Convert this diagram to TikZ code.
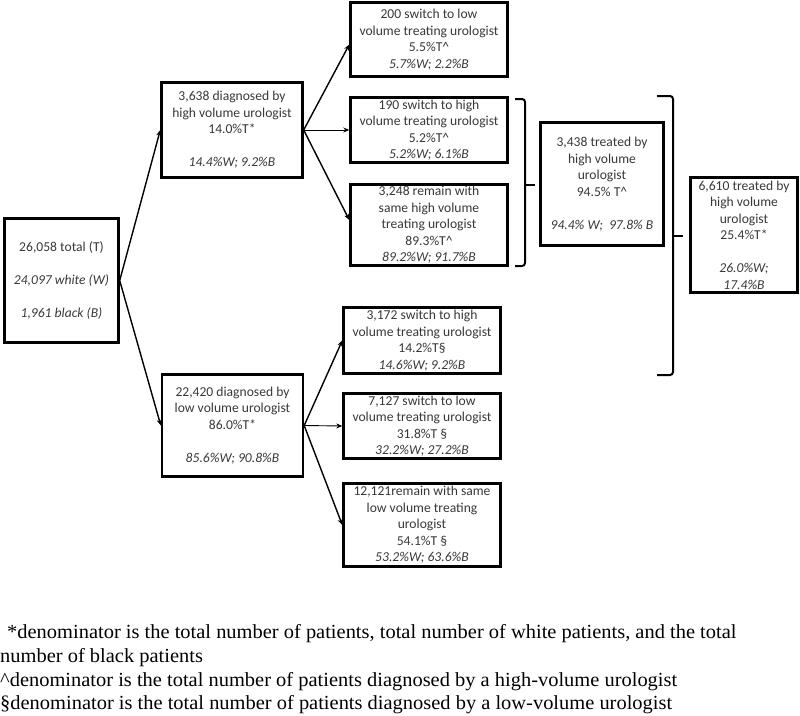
\documentclass[tikz,border=0pt]{standalone}
\usepackage{fontspec}
\usepackage{graphicx}
\setmainfont{Carlito}
\newfontfamily\fnfont{Liberation Serif}
\usetikzlibrary{arrows.meta}
\newlength\fnw
\newcommand\fnsize{\fnfont\fontsize{20}{23}\selectfont}
\begin{document}
\settowidth{\fnw}{\fnsize \textasciicircum denominator is the total number of patients diagnosed by a high-volume urologist}
\pgfmathsetmacro\fnsx{677/\fnw}
\begin{tikzpicture}[x=1pt,y=-1pt,
  box/.style={draw, line width=2.4pt, inner sep=0pt, align=center,
    font=\fontsize{13.6}{16.5}\selectfont, text=black!78},
  arr/.style={line width=1.4pt, -{Stealth[length=6pt,width=5pt]}},
  arrthin/.style={line width=0.9pt, -{Stealth[length=6pt,width=5pt]}},
  brk/.style={line width=2pt, rounded corners=3pt},
  fn/.style={anchor=base west, inner sep=0pt}]
\useasboundingbox (0,0) rectangle (800,715);
\node[box, minimum width=114pt, minimum height=124pt] (root) at (61.5,280.5)
  {26,058 total (T)\\[16.5pt]\textit{24,097 white (W)}\\[16.5pt]\textit{1,961 black (B)}};
\node[box, minimum width=141pt, minimum height=95pt] (hd) at (232,130)
  {3,638 diagnosed by\\high volume urologist\\14.0\%T*\\[16.5pt]\textit{14.4\%W; 9.2\%B}};
\node[box, minimum width=141pt, minimum height=102pt] (ld) at (232.5,425.5)
  {22,420 diagnosed by\\low volume urologist\\86.0\%T*\\[16.5pt]\textit{85.6\%W; 90.8\%B}};
\node[box, minimum width=157pt, minimum height=74pt] (a1) at (429,39.5)
  {200 switch to low\\volume treating urologist\\5.5\%T\textasciicircum\\\textit{5.7\%W; 2.2\%B}};
\node[box, minimum width=157pt, minimum height=65pt] (a2) at (429,130)
  {190 switch to high\\volume treating urologist\\5.2\%T\textasciicircum\\\textit{5.2\%W; 6.1\%B}};
\node[box, minimum width=157pt, minimum height=81pt] (a3) at (429,225)
  {3,248 remain with\\same high volume\\treating urologist\\89.3\%T\textasciicircum\\\textit{89.2\%W; 91.7\%B}};
\node[box, minimum width=157pt, minimum height=66pt] (b1) at (422,340.5)
  {3,172 switch to high\\volume treating urologist\\14.2\%T§\\\textit{14.6\%W; 9.2\%B}};
\node[box, minimum width=157pt, minimum height=65pt] (b2) at (422,426)
  {7,127 switch to low\\volume treating urologist\\31.8\%T §\\\textit{32.2\%W; 27.2\%B}};
\node[box, minimum width=157pt, minimum height=83pt] (b3) at (422,525)
  {12,121remain with same\\low volume treating\\urologist\\54.1\%T §\\\textit{53.2\%W; 63.6\%B}};
\node[box, minimum width=123pt, minimum height=123pt] (th) at (602,184)
  {3,438 treated by\\high volume\\urologist\\94.5\% T\textasciicircum\\[16.5pt]\textit{94.4\% W;\ \ 97.8\% B}};
\node[box, minimum width=107pt, minimum height=115pt] (tf) at (744,235)
  {6,610 treated by\\high volume\\urologist\\25.4\%T*\\[16.5pt]\textit{26.0\%W;}\\\textit{17.4\%B}};
% connectors
\draw[arr] (root.east) -- (hd.west);
\draw[arr] (root.east) -- (ld.west);
\draw[arr] (hd.east) -- ([yshift=-5pt]a1.west);
\draw[arrthin] (hd.east) -- (a2.west);
\draw[arr] (hd.east) -- ([yshift=5pt]a3.west);
\draw[arr] (ld.east) -- (b1.west);
\draw[arrthin] (ld.east) -- (b2.west);
\draw[arr] (ld.east) -- (b3.west);
% brackets
\coordinate (k1) at (535,185);
\coordinate (k2) at (683,236);
\draw[brk] (515,99) -- (525,99) -- (525,266) -- (515,266);
\draw[line width=2pt] (525,185) -- (k1);
\draw[brk] (657,96) -- (673,96) -- (673,375) -- (657,375);
\draw[line width=2pt] (673,236) -- (k2);
% footnotes
\node[fn] (f1) at (7,638) {\scalebox{\fnsx}[1]{\fnsize *denominator is the total number of patients, total number of white patients, and the total}};
\node[fn] (f2) at (0,662) {\scalebox{\fnsx}[1]{\fnsize number of black patients}};
\node[fn] (f3) at (0,686) {\scalebox{\fnsx}[1]{\fnsize \textasciicircum denominator is the total number of patients diagnosed by a high-volume urologist}};
\node[fn] (f4) at (0,709) {\scalebox{\fnsx}[1]{\fnsize §denominator is the total number of patients diagnosed by a low-volume urologist}};
\end{tikzpicture}
\end{document}
